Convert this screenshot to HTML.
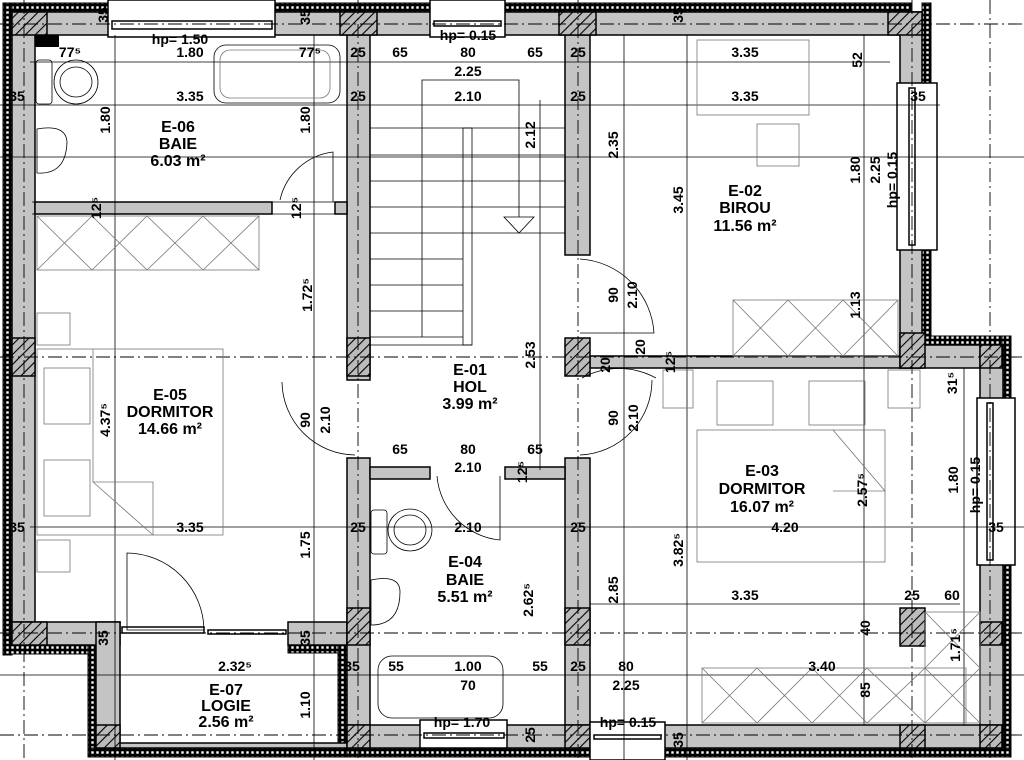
<!DOCTYPE html>
<html><head><meta charset="utf-8"><style>
html,body{margin:0;padding:0;background:#fff;}
svg{display:block;}
text{font-family:"Liberation Sans",sans-serif;font-weight:bold;fill:#000;}
.d{font-size:14px;text-anchor:middle;}
.r{font-size:16px;text-anchor:middle;}
.w{fill:#c4c4c4;stroke:#000;stroke-width:1.5;}
.h{fill:url(#hat);stroke:#000;stroke-width:1.5;}
.ins{fill:url(#dots);stroke:#000;stroke-width:1;}
.t{stroke:#000;stroke-width:0.8;fill:none;}
.g{stroke:#777;stroke-width:0.8;fill:none;}
.ax{stroke:#000;stroke-width:0.9;stroke-dasharray:14 4 2 4;fill:none;}
.win{fill:#fff;stroke:#000;stroke-width:1.5;}
</style></head><body>
<svg width="1024" height="760" viewBox="0 0 1024 760" xmlns="http://www.w3.org/2000/svg">
<defs>
<pattern id="hat" width="7" height="7" patternUnits="userSpaceOnUse" patternTransform="rotate(45)">
<rect width="7" height="7" fill="#bbb"/><line x1="0" y1="0" x2="0" y2="7" stroke="#000" stroke-width="2.2"/></pattern>
<pattern id="dots" width="5" height="5" patternUnits="userSpaceOnUse">
<rect width="5" height="5" fill="#000"/><rect x="1.3" y="1.3" width="2.4" height="2.4" fill="#fff"/></pattern>
</defs>

<rect class="ins" x="3" y="3" width="908" height="9"/>
<rect class="ins" x="3" y="3" width="9" height="652"/>
<rect class="ins" x="922" y="3" width="9" height="342"/>
<rect class="ins" x="922" y="336" width="88" height="9"/>
<rect class="ins" x="1002" y="336" width="9" height="421"/>
<rect class="ins" x="340" y="748" width="671" height="9"/>
<rect class="ins" x="3" y="645" width="117" height="9"/>
<rect class="ins" x="88" y="645" width="8" height="112"/>
<rect class="ins" x="288" y="645" width="59" height="8"/>
<rect class="ins" x="338" y="645" width="9" height="112"/>
<rect class="ins" x="88" y="748" width="259" height="9"/>

<rect class="w" x="12" y="12" width="910" height="23"/>
<rect class="w" x="12" y="12" width="23" height="633"/>
<rect class="w" x="900" y="12" width="22" height="356"/>
<rect class="w" x="900" y="345" width="102" height="23"/>
<rect class="w" x="980" y="345" width="23" height="403"/>
<rect class="w" x="347" y="725" width="656" height="23"/>
<rect class="w" x="12" y="622" width="108" height="23"/>
<rect class="w" x="96" y="622" width="24" height="126"/>
<rect class="w" x="288" y="622" width="59" height="23"/>
<rect class="w" x="96" y="743" width="251" height="5"/>

<rect class="w" x="347" y="35" width="23" height="345"/>
<rect class="w" x="347" y="458" width="23" height="267"/>
<rect class="w" x="565" y="35" width="25" height="220"/>
<rect class="w" x="565" y="458" width="25" height="267"/>
<rect class="w" x="35" y="202" width="237" height="12"/>
<rect class="w" x="335" y="202" width="12" height="12"/>
<rect class="w" x="590" y="356" width="310" height="12"/>
<rect class="w" x="370" y="467" width="60" height="12"/>
<rect class="w" x="505" y="467" width="60" height="12"/>

<rect class="h" x="12" y="12" width="35" height="23"/>
<rect class="h" x="340" y="12" width="37" height="23"/>
<rect class="h" x="559" y="12" width="37" height="23"/>
<rect class="h" x="888" y="12" width="34" height="23"/>
<rect class="h" x="12" y="338" width="23" height="38"/>
<rect class="h" x="347" y="338" width="23" height="38"/>
<rect class="h" x="565" y="338" width="25" height="38"/>
<rect class="h" x="900" y="333" width="25" height="35"/>
<rect class="h" x="980" y="345" width="22" height="23"/>
<rect class="h" x="12" y="622" width="35" height="23"/>
<rect class="h" x="96" y="725" width="24" height="23"/>
<rect class="h" x="347" y="608" width="23" height="37"/>
<rect class="h" x="347" y="725" width="23" height="23"/>
<rect class="h" x="565" y="608" width="25" height="37"/>
<rect class="h" x="565" y="725" width="25" height="23"/>
<rect class="h" x="900" y="608" width="25" height="38"/>
<rect class="h" x="900" y="725" width="25" height="23"/>
<rect class="h" x="980" y="622" width="22" height="23"/>
<rect class="h" x="980" y="725" width="22" height="23"/>
<rect x="35" y="35" width="24" height="12" fill="#000"/>

<rect class="win" x="108" y="0" width="167" height="37"/>
<rect class="win" x="112" y="21" width="160" height="8"/>
<rect class="win" x="430" y="0" width="75" height="37"/>
<rect class="win" x="434" y="21" width="67" height="5"/>
<rect class="win" x="897" y="83" width="40" height="167"/>
<rect class="win" x="909" y="88" width="6" height="157"/>
<rect class="win" x="977" y="398" width="38" height="167"/>
<rect class="win" x="987" y="403" width="6" height="157"/>
<rect class="win" x="420" y="720" width="87" height="28"/>
<rect class="win" x="424" y="733" width="80" height="5"/>
<rect class="win" x="590" y="722" width="75" height="38"/>
<rect class="win" x="594" y="735" width="67" height="4"/>
<rect class="win" x="122" y="627" width="82" height="6"/>
<rect class="win" x="208" y="630" width="78" height="4"/>

<line class="ax" x1="0" y1="24" x2="1024" y2="24"/>
<line class="ax" x1="0" y1="357" x2="1024" y2="357"/>
<line class="ax" x1="0" y1="633" x2="1024" y2="633"/>
<line class="ax" x1="0" y1="735" x2="1024" y2="735"/>
<line class="ax" x1="24" y1="0" x2="24" y2="760"/>
<line class="ax" x1="358" y1="0" x2="358" y2="760"/>
<line class="ax" x1="578" y1="0" x2="578" y2="760"/>
<line class="ax" x1="912" y1="0" x2="912" y2="760"/>
<line class="ax" x1="990" y1="0" x2="990" y2="760"/>

<g class="t">
<line x1="30" y1="62" x2="890" y2="62"/>
<line x1="0" y1="105" x2="940" y2="105"/>
<line x1="0" y1="157" x2="1024" y2="157"/>
<line x1="30" y1="527" x2="1024" y2="527"/>
<line x1="590" y1="604" x2="960" y2="604"/>
<line x1="0" y1="675" x2="1024" y2="675"/>
<line x1="115" y1="35" x2="115" y2="760"/>
<line x1="314" y1="35" x2="314" y2="760"/>
<line x1="624" y1="35" x2="624" y2="760"/>
<line x1="687" y1="35" x2="687" y2="760"/>
<line x1="864" y1="35" x2="864" y2="725"/>
<line x1="540" y1="100" x2="540" y2="470"/>
<line x1="964" y1="368" x2="964" y2="725"/>
<line x1="32" y1="202" x2="340" y2="202"/>
<line x1="32" y1="214" x2="340" y2="214"/>
</g>

<g class="t">
<line x1="370" y1="128" x2="565" y2="128"/><line x1="370" y1="155" x2="565" y2="155"/>
<line x1="370" y1="181" x2="565" y2="181"/><line x1="370" y1="207" x2="565" y2="207"/>
<line x1="370" y1="233" x2="565" y2="233"/>
<line x1="370" y1="259" x2="463" y2="259"/><line x1="370" y1="285" x2="463" y2="285"/>
<line x1="370" y1="311" x2="463" y2="311"/><line x1="370" y1="337" x2="463" y2="337"/>
<line x1="370" y1="345" x2="472" y2="345"/>
<rect x="463" y="128" width="9" height="217"/>
<polyline points="422,337 422,80 519,80 519,217"/>
<polygon points="504,217 534,217 519,233"/>
</g>

<g class="t">
<rect x="214" y="45" width="126" height="58" rx="12"/>
<rect x="220" y="50" width="110" height="48" rx="10" class="g"/>
<rect x="36" y="60" width="16" height="44" rx="3"/>
<ellipse cx="76" cy="82" rx="22" ry="22"/>
<ellipse cx="76" cy="82" rx="16" ry="15"/>
<path d="M37 129 Q66 124 67 142 Q66 175 37 173 Z"/>
<path d="M280 200 A62 62 0 0 1 333 152 L333 202"/>
</g>
<g class="t">
<rect x="37" y="216" width="222" height="54" class="g"/>
<g class="g"><line x1="37" y1="216" x2="92" y2="270"/><line x1="92" y1="216" x2="37" y2="270"/>
<line x1="92" y1="216" x2="147" y2="270"/><line x1="147" y1="216" x2="92" y2="270"/>
<line x1="147" y1="216" x2="203" y2="270"/><line x1="203" y1="216" x2="147" y2="270"/>
<line x1="203" y1="216" x2="259" y2="270"/><line x1="259" y1="216" x2="203" y2="270"/></g>
<rect x="37" y="313" width="33" height="32" class="g"/>
<rect x="37" y="349" width="186" height="186" class="g"/>
<rect x="44" y="368" width="46" height="56" class="g"/>
<rect x="44" y="460" width="46" height="56" class="g"/>
<polyline class="g" points="93,349 93,482 153,482 153,535"/>
<line class="g" x1="93" y1="482" x2="153" y2="535"/>
<rect x="37" y="540" width="33" height="32" class="g"/>
<path d="M127 553 A78 78 0 0 1 204 630 L127 630 Z"/>
<path d="M282 382 A74 74 0 0 0 355 455"/>
</g>
<g class="t">
<rect x="697" y="40" width="112" height="75" class="g"/>
<rect x="757" y="124" width="42" height="42" class="g"/>
<rect x="733" y="300" width="165" height="56" class="g"/>
<g class="g"><line x1="733" y1="300" x2="788" y2="356"/><line x1="788" y1="300" x2="733" y2="356"/>
<line x1="788" y1="300" x2="843" y2="356"/><line x1="843" y1="300" x2="788" y2="356"/>
<line x1="843" y1="300" x2="898" y2="356"/><line x1="898" y1="300" x2="843" y2="356"/></g>
<path d="M580 259 A79 79 0 0 1 654 333 L580 333"/>
<path d="M582 378 A77 77 0 0 1 656 378"/>
<path d="M580 455 A75 75 0 0 0 652 380"/>
</g>
<g class="g">
<rect x="663" y="370" width="30" height="38"/>
<rect x="888" y="370" width="32" height="38"/>
<rect x="717" y="381" width="56" height="44"/>
<rect x="809" y="381" width="56" height="44"/>
<rect x="697" y="430" width="188" height="132"/>
<polyline points="833,430 885,491 833,491"/>
<rect x="702" y="668" width="264" height="55"/>
<line x1="702" y1="668" x2="757" y2="723"/><line x1="757" y1="668" x2="702" y2="723"/>
<line x1="757" y1="668" x2="812" y2="723"/><line x1="812" y1="668" x2="757" y2="723"/>
<line x1="812" y1="668" x2="867" y2="723"/><line x1="867" y1="668" x2="812" y2="723"/>
<line x1="867" y1="668" x2="925" y2="723"/><line x1="925" y1="668" x2="867" y2="723"/>
<rect x="925" y="612" width="55" height="111"/>
<line x1="925" y1="612" x2="980" y2="668"/><line x1="980" y1="612" x2="925" y2="668"/>
<line x1="925" y1="668" x2="980" y2="723"/><line x1="980" y1="668" x2="925" y2="723"/>
</g>
<g class="t">
<rect x="371" y="510" width="16" height="44" rx="3"/>
<ellipse cx="410" cy="530" rx="22" ry="21"/>
<ellipse cx="410" cy="530" rx="16" ry="15"/>
<path d="M371 580 Q400 574 400 592 Q400 625 371 625 Z"/>
<rect x="378" y="656" width="125" height="62" rx="14"/>
<path d="M437 476 A70 70 0 0 0 500 540 L500 476"/>
</g>

<text class="r" x="178" y="132">E-06</text><text class="r" x="178" y="149">BAIE</text><text class="r" x="178" y="166">6.03 m²</text>
<text class="r" x="745" y="196">E-02</text><text class="r" x="745" y="213">BIROU</text><text class="r" x="745" y="231">11.56 m²</text>
<text class="r" x="470" y="375">E-01</text><text class="r" x="470" y="392">HOL</text><text class="r" x="470" y="409">3.99 m²</text>
<text class="r" x="170" y="400">E-05</text><text class="r" x="170" y="417">DORMITOR</text><text class="r" x="170" y="434">14.66 m²</text>
<text class="r" x="762" y="476">E-03</text><text class="r" x="762" y="494">DORMITOR</text><text class="r" x="762" y="512">16.07 m²</text>
<text class="r" x="465" y="567">E-04</text><text class="r" x="465" y="585">BAIE</text><text class="r" x="465" y="602">5.51 m²</text>
<text class="r" x="226" y="695">E-07</text><text class="r" x="226" y="711">LOGIE</text><text class="r" x="226" y="727">2.56 m²</text>

<g class="d">
<text x="180" y="44">hp= 1.50</text><text x="468" y="40">hp= 0.15</text>
<text x="70" y="57">77⁵</text><text x="190" y="57">1.80</text><text x="310" y="57">77⁵</text>
<text x="358" y="57">25</text><text x="400" y="57">65</text><text x="468" y="57">80</text><text x="535" y="57">65</text><text x="578" y="57">25</text><text x="745" y="57">3.35</text>
<text x="468" y="76">2.25</text>
<text x="17" y="101">35</text><text x="190" y="101">3.35</text><text x="358" y="101">25</text><text x="468" y="101">2.10</text><text x="578" y="101">25</text><text x="745" y="101">3.35</text><text x="918" y="101">35</text>
<text x="400" y="454">65</text><text x="468" y="454">80</text><text x="535" y="454">65</text><text x="468" y="472">2.10</text>
<text x="17" y="532">35</text><text x="190" y="532">3.35</text><text x="358" y="532">25</text><text x="468" y="532">2.10</text><text x="578" y="532">25</text><text x="785" y="532">4.20</text><text x="996" y="532">35</text>
<text x="745" y="600">3.35</text><text x="912" y="600">25</text><text x="952" y="600">60</text>
<text x="235" y="671">2.32⁵</text><text x="352" y="671">35</text><text x="396" y="671">55</text><text x="468" y="671">1.00</text><text x="540" y="671">55</text><text x="578" y="671">25</text><text x="626" y="671">80</text><text x="822" y="671">3.40</text>
<text x="468" y="690">70</text><text x="626" y="690">2.25</text>
<text x="462" y="727">hp= 1.70</text><text x="628" y="727">hp= 0.15</text>
</g>
<g class="d">
<text transform="translate(108,15) rotate(-90)">35</text>
<text transform="translate(310,17) rotate(-90)">35</text>
<text transform="translate(683,15) rotate(-90)">35</text>
<text transform="translate(862,60) rotate(-90)">52</text>
<text transform="translate(110,120) rotate(-90)">1.80</text>
<text transform="translate(310,120) rotate(-90)">1.80</text>
<text transform="translate(535,135) rotate(-90)">2.12</text>
<text transform="translate(618,145) rotate(-90)">2.35</text>
<text transform="translate(683,200) rotate(-90)">3.45</text>
<text transform="translate(860,170) rotate(-90)">1.80</text>
<text transform="translate(880,170) rotate(-90)">2.25</text>
<text transform="translate(897,180) rotate(-90)">hp= 0.15</text>
<text transform="translate(101,208) rotate(-90)">12⁵</text>
<text transform="translate(301,208) rotate(-90)">12⁵</text>
<text transform="translate(312,295) rotate(-90)">1.72⁵</text>
<text transform="translate(618,295) rotate(-90)">90</text>
<text transform="translate(637,295) rotate(-90)">2.10</text>
<text transform="translate(860,305) rotate(-90)">1.13</text>
<text transform="translate(535,355) rotate(-90)">2.53</text>
<text transform="translate(610,365) rotate(-90)">20</text>
<text transform="translate(645,347) rotate(-90)">20</text>
<text transform="translate(675,362) rotate(-90)">12⁵</text>
<text transform="translate(957,383) rotate(-90)">31⁵</text>
<text transform="translate(110,420) rotate(-90)">4.37⁵</text>
<text transform="translate(310,420) rotate(-90)">90</text>
<text transform="translate(330,420) rotate(-90)">2.10</text>
<text transform="translate(618,418) rotate(-90)">90</text>
<text transform="translate(638,418) rotate(-90)">2.10</text>
<text transform="translate(527,472) rotate(-90)">12⁵</text>
<text transform="translate(867,490) rotate(-90)">2.57⁵</text>
<text transform="translate(958,480) rotate(-90)">1.80</text>
<text transform="translate(980,485) rotate(-90)">hp= 0.15</text>
<text transform="translate(310,545) rotate(-90)">1.75</text>
<text transform="translate(683,550) rotate(-90)">3.82⁵</text>
<text transform="translate(533,600) rotate(-90)">2.62⁵</text>
<text transform="translate(618,590) rotate(-90)">2.85</text>
<text transform="translate(870,628) rotate(-90)">40</text>
<text transform="translate(960,645) rotate(-90)">1.71⁵</text>
<text transform="translate(108,638) rotate(-90)">35</text>
<text transform="translate(310,638) rotate(-90)">35</text>
<text transform="translate(870,690) rotate(-90)">85</text>
<text transform="translate(310,705) rotate(-90)">1.10</text>
<text transform="translate(535,735) rotate(-90)">25</text>
<text transform="translate(683,740) rotate(-90)">35</text>
</g>
</svg>
</body></html>
